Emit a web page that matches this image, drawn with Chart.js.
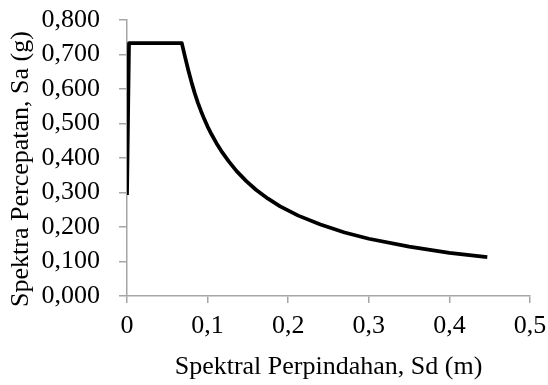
<!DOCTYPE html>
<html>
<head>
<meta charset="utf-8">
<script src="https://cdn.jsdelivr.net/npm/chart.js@4/dist/chart.umd.min.js"></script>
<style>
  html, body { margin: 0; padding: 0; background: #fff; }
  #wrap { width: 548px; height: 385px; }
</style>
</head>
<body>
<div id="wrap"><canvas id="c" width="548" height="385"></canvas></div>
<script>
// Spectral displacement Sd (m)
const sdValues = [0, 0.0025, 0.068, 0.072, 0.076, 0.080, 0.084, 0.088, 0.092, 0.096, 0.100, 0.105, 0.111, 0.118, 0.126, 0.136, 0.148, 0.160, 0.175, 0.190, 0.2125, 0.24, 0.27, 0.30, 0.35, 0.40, 0.447];
// Spectral acceleration Sa (g)
const saValues = [0.293, 0.733, 0.733, 0.693, 0.655, 0.620, 0.588, 0.560, 0.535, 0.512, 0.491, 0.468, 0.443, 0.417, 0.391, 0.362, 0.333, 0.308, 0.282, 0.260, 0.233, 0.207, 0.184, 0.166, 0.143, 0.125, 0.113];
const xTicks = [0, 0.1, 0.2, 0.3, 0.4, 0.5];
const yTicks = [0, 0.1, 0.2, 0.3, 0.4, 0.5, 0.6, 0.7, 0.8];
const xTitle = 'Spektral Perpindahan, Sd (m)';
const yTitle = 'Spektra Percepatan, Sa (g)';

const points = sdValues.map((x, i) => ({ x: x, y: saValues[i] }));
const FONT = '"Liberation Serif", "Times New Roman", serif';
const AXIS = '#a6a6a6';

const yTitlePlugin = {
  id: 'yTitle',
  afterDraw(chart) {
    const ctx = chart.ctx;
    ctx.save();
    ctx.translate(28, 169);
    ctx.rotate(-Math.PI / 2);
    ctx.font = '26px ' + FONT;
    ctx.fillStyle = '#000';
    ctx.textAlign = 'center';
    ctx.textBaseline = 'alphabetic';
    ctx.fillText(yTitle, 0, 0);
    ctx.restore();
  }
};

new Chart(document.getElementById('c'), {
  type: 'scatter',
  data: {
    datasets: [{
      data: points,
      showLine: true,
      borderColor: '#000',
      borderWidth: 3.75,
      borderJoinStyle: 'round',
      borderCapStyle: 'butt',
      tension: 0,
      pointRadius: 0,
      pointHoverRadius: 0,
      fill: false
    }]
  },
  options: {
    responsive: false,
    animation: false,
    events: [],
    layout: { padding: { left: 0, right: 18, top: 20, bottom: 0 } },
    plugins: { legend: { display: false }, tooltip: { enabled: false } },
    scales: {
      x: {
        type: 'linear',
        min: 0, max: 0.5,
        afterBuildTicks(s) { s.ticks = xTicks.map(v => ({ value: v })); },
        afterFit(s) { s.height = 89; s.paddingLeft = 0; s.paddingRight = 0; },
        border: { display: true, color: AXIS, width: 1.5 },
        grid: { display: true, drawOnChartArea: false, drawTicks: true, tickLength: 7, color: AXIS, lineWidth: 1.5 },
        ticks: {
          color: '#000', padding: 8, maxRotation: 0, autoSkip: false,
          font: { family: FONT, size: 26 },
          callback: v => String(Math.round(v * 10) / 10).replace('.', ',')
        },
        title: { display: true, text: xTitle, color: '#000', font: { family: FONT, size: 26 }, padding: { top: 0, bottom: 2 } }
      },
      y: {
        type: 'linear',
        min: 0, max: 0.8,
        afterBuildTicks(s) { s.ticks = yTicks.map(v => ({ value: v })); },
        afterFit(s) { s.width = 127; s.paddingTop = 0; s.paddingBottom = 0; },
        border: { display: true, color: AXIS, width: 1.5 },
        grid: { display: true, drawOnChartArea: false, drawTicks: true, tickLength: 8, color: AXIS, lineWidth: 1.5 },
        ticks: {
          color: '#000', padding: 19, autoSkip: false,
          font: { family: FONT, size: 26 },
          callback: v => v.toFixed(3).replace('.', ',')
        },
        title: { display: false }
      }
    }
  },
  plugins: [yTitlePlugin]
});
</script>
</body>
</html>
